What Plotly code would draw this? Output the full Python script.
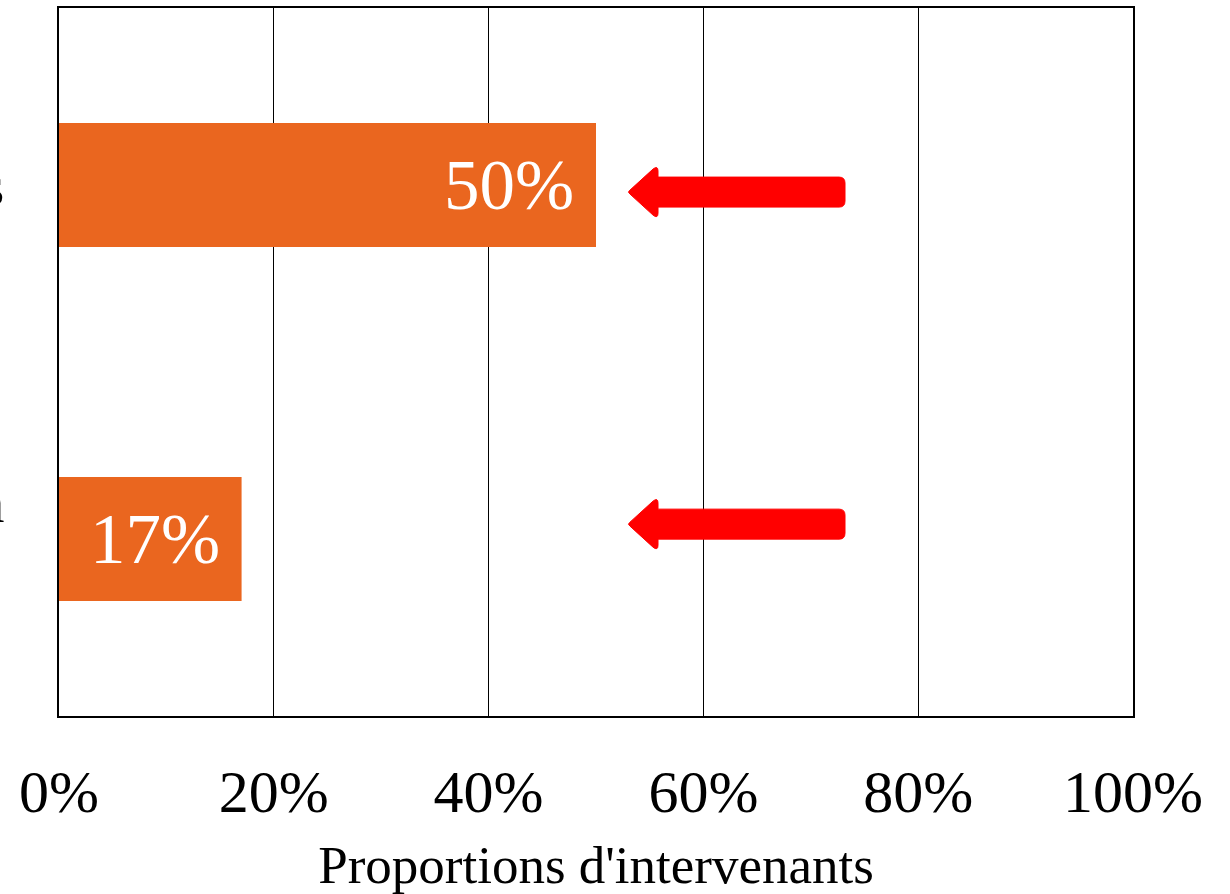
import plotly.graph_objects as go

# Data
categories = ["Connaissances", "Avec formation<br>initiale\u00a0\u00a0"]
proportions = [0.50, 0.17]
x_ticks = [0, 0.2, 0.4, 0.6, 0.8, 1.0]
x_tick_labels = ["0%", "20%", "40%", "60%", "80%", "100%"]
arrow_tip_x = [0.5298, 0.5298]
arrow_y = [0.02, 0.958]

SERIF = "Liberation Serif"
BAR_COLOR = "#EA661F"
ARROW_COLOR = "#FF0000"

fig = go.Figure()
fig.add_trace(go.Bar(
    x=proportions,
    y=categories,
    orientation="h",
    marker=dict(color=BAR_COLOR, line=dict(width=0)),
    width=0.35,
    hoverinfo="skip",
))

# value labels inside the bars, near their ends
annotations = []
for cat, v in zip(categories, proportions):
    annotations.append(dict(
        x=v, y=cat, xref="x", yref="y",
        text=f"{round(v * 100)}%", showarrow=False,
        xanchor="right", yanchor="middle", xshift=-20,
        font=dict(family=SERIF, size=71, color="white"),
    ))

# left-pointing arrows with rounded corners, in pixel offsets from their tips
arrow_path = (
    "M 2 2 L 25 23 Q 30 27 30 21 L 30 15 L 211 15 Q 217 15 217 9 "
    "L 217 -9 Q 217 -15 211 -15 L 30 -15 L 30 -21 Q 30 -27 25 -23 "
    "L 2 -2 Q -1 0 2 2 Z"
)
shapes = []
for tx, ty in zip(arrow_tip_x, arrow_y):
    shapes.append(dict(
        type="path", xref="x", yref="y",
        xsizemode="pixel", ysizemode="pixel",
        xanchor=tx, yanchor=ty,
        path=arrow_path,
        fillcolor=ARROW_COLOR,
        line=dict(color=ARROW_COLOR, width=1),
        layer="above",
    ))

fig.update_layout(
    width=1230, height=894,
    margin=dict(l=59, r=97, t=8, b=178, autoexpand=False),
    paper_bgcolor="white", plot_bgcolor="white",
    showlegend=False,
    font=dict(family=SERIF, color="black"),
    annotations=annotations,
    shapes=shapes,
    xaxis=dict(
        range=[0, 1],
        tickvals=x_ticks, ticktext=x_tick_labels,
        tickfont=dict(family=SERIF, size=60, color="black"),
        showgrid=True, gridcolor="black", gridwidth=1,
        showline=True, linecolor="black", linewidth=2, mirror=True,
        ticks="", ticklabelstandoff=22,
        zeroline=False, automargin=False,
        title=dict(text="Proportions d'intervenants",
                   font=dict(family=SERIF, size=53, color="black"),
                   standoff=22),
    ),
    yaxis=dict(
        type="category",
        range=[1.5, -0.5],
        tickfont=dict(family=SERIF, size=58, color="black"),
        showgrid=False,
        showline=True, linecolor="black", linewidth=2, mirror=True,
        ticks="", ticklabelstandoff=41,
        zeroline=False, automargin=False,
    ),
)

fig.write_html("out.html")
